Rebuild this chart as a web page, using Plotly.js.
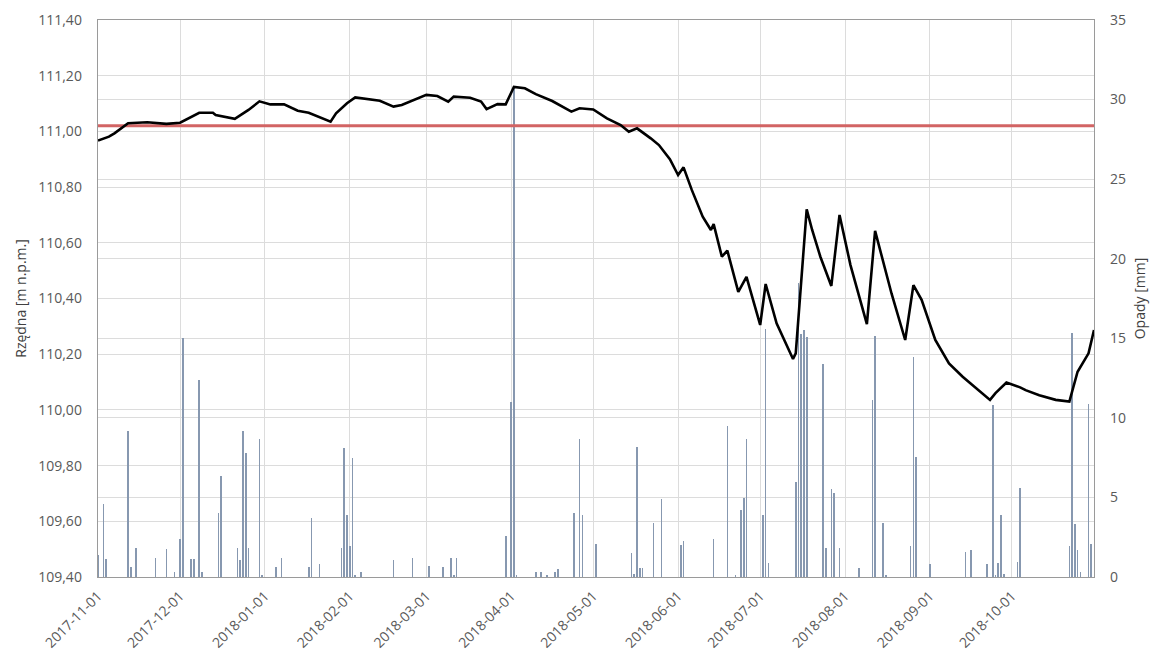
<!DOCTYPE html>
<html>
<head>
<meta charset="utf-8">
<script src="https://cdn.plot.ly/plotly-3.0.1.min.js"></script>
<style>
html,body{margin:0;padding:0;background:#fff;}
#chart{width:1163px;height:657px;}
</style>
</head>
<body>
<div id="chart"></div>
<script>
// Water level (Rzędna, m n.p.m.)
const levelDates = [
 '2017-11-01','2017-11-05','2017-11-07','2017-11-10','2017-11-12','2017-11-19','2017-11-26',
 '2017-12-01','2017-12-04','2017-12-08','2017-12-13','2017-12-14','2017-12-21','2017-12-26','2017-12-30',
 '2018-01-03','2018-01-08','2018-01-13','2018-01-17','2018-01-21','2018-01-25','2018-01-27','2018-01-31',
 '2018-02-03','2018-02-08','2018-02-12','2018-02-17','2018-02-20',
 '2018-03-01','2018-03-05','2018-03-09','2018-03-11','2018-03-17','2018-03-21','2018-03-23','2018-03-27','2018-03-30',
 '2018-04-02','2018-04-06','2018-04-10','2018-04-16','2018-04-23','2018-04-26',
 '2018-05-01','2018-05-06','2018-05-11','2018-05-14','2018-05-17','2018-05-22','2018-05-25','2018-05-29',
 '2018-06-01','2018-06-03','2018-06-06','2018-06-10','2018-06-13','2018-06-14','2018-06-17','2018-06-19','2018-06-23','2018-06-26',
 '2018-07-01','2018-07-03','2018-07-07','2018-07-13','2018-07-14','2018-07-18','2018-07-20','2018-07-23','2018-07-27','2018-07-30',
 '2018-08-03','2018-08-09','2018-08-12','2018-08-18','2018-08-23','2018-08-26','2018-08-29',
 '2018-09-03','2018-09-08','2018-09-13','2018-09-18','2018-09-23','2018-09-25','2018-09-29',
 '2018-10-04','2018-10-06','2018-10-11','2018-10-17','2018-10-22','2018-10-25','2018-10-29','2018-10-31'
];
const levelValues = [
 110.967,110.981,110.993,111.015,111.029,111.033,111.027,
 111.031,111.047,111.067,111.067,111.059,111.045,111.077,111.108,
 111.097,111.097,111.074,111.067,111.050,111.035,111.065,111.101,
 111.122,111.115,111.110,111.089,111.095,
 111.131,111.127,111.107,111.125,111.121,111.107,111.080,111.098,111.097,
 111.160,111.155,111.134,111.109,111.071,111.083,
 111.079,111.047,111.023,110.999,111.011,110.975,110.951,110.900,
 110.843,110.871,110.790,110.694,110.646,110.667,110.550,110.572,110.424,110.478,
 110.305,110.452,110.311,110.183,110.203,110.720,110.646,110.550,110.445,110.700,
 110.520,110.308,110.643,110.418,110.251,110.448,110.395,
 110.251,110.167,110.119,110.078,110.036,110.060,110.098,
 110.081,110.071,110.053,110.036,110.030,110.137,110.203,110.287
];

// Precipitation (Opady, mm)
const rainDates = [
 '2017-11-01','2017-11-03','2017-11-04','2017-11-12','2017-11-13','2017-11-15','2017-11-22','2017-11-26','2017-11-29',
 '2017-12-01','2017-12-02','2017-12-05','2017-12-06','2017-12-08','2017-12-09','2017-12-15','2017-12-16',
 '2017-12-22','2017-12-23','2017-12-24','2017-12-25','2017-12-26','2017-12-30','2017-12-31',
 '2018-01-05','2018-01-07','2018-01-17','2018-01-18','2018-01-21','2018-01-29','2018-01-30','2018-01-31',
 '2018-02-01','2018-02-02','2018-02-03','2018-02-05','2018-02-17','2018-02-24',
 '2018-03-02','2018-03-07','2018-03-10','2018-03-11','2018-03-12','2018-03-30',
 '2018-04-01','2018-04-02','2018-04-03','2018-04-10','2018-04-12','2018-04-14','2018-04-17','2018-04-18',
 '2018-04-24','2018-04-26','2018-04-27',
 '2018-05-02','2018-05-15','2018-05-16','2018-05-17','2018-05-18','2018-05-19','2018-05-23','2018-05-26',
 '2018-06-02','2018-06-03','2018-06-14','2018-06-19','2018-06-22','2018-06-24','2018-06-25','2018-06-26',
 '2018-07-02','2018-07-03','2018-07-04','2018-07-14','2018-07-15','2018-07-16','2018-07-17','2018-07-18',
 '2018-07-24','2018-07-25','2018-07-27','2018-07-28','2018-07-30',
 '2018-08-06','2018-08-11','2018-08-12','2018-08-15','2018-08-16','2018-08-25','2018-08-26','2018-08-27',
 '2018-09-01','2018-09-14','2018-09-16','2018-09-22','2018-09-24','2018-09-25','2018-09-26','2018-09-27','2018-09-28',
 '2018-10-03','2018-10-04','2018-10-22','2018-10-23','2018-10-24','2018-10-25','2018-10-26','2018-10-29','2018-10-30'
];
const rainValues = [
 1.4,4.6,1.1,9.2,0.6,1.85,1.2,1.75,0.3,
 2.4,15.0,1.15,1.15,12.4,0.3,4.0,6.35,
 1.85,1.07,9.2,7.8,1.85,8.65,0.1,
 0.6,1.2,0.6,3.7,0.8,1.85,8.1,3.9,
 1.95,7.45,0.1,0.3,1.07,1.17,
 0.7,0.6,1.2,0.1,1.17,2.6,
 11.0,30.8,0.1,0.3,0.3,0.1,0.33,0.5,
 4.0,8.65,3.9,
 2.1,1.5,0.2,8.2,0.55,0.55,3.4,4.9,
 2.0,2.25,2.4,9.5,0.1,4.2,4.95,8.7,
 3.9,15.6,0.85,6.0,18.5,15.3,15.5,15.1,
 13.4,1.85,5.5,5.3,1.85,
 0.55,11.1,15.15,3.4,0.1,1.95,13.85,7.55,
 0.8,1.6,1.7,0.8,10.8,0.1,0.85,3.9,0.2,
 0.95,5.6,1.95,15.35,3.3,1.7,0.3,10.9,2.1
];

// Reference level (red line)
const referenceLevel = [111.02];
const periodBounds = ['2017-11-01','2018-10-31'];
const monthTicks = ['2017-11-01','2017-12-01','2018-01-01','2018-02-01','2018-03-01','2018-04-01',
 '2018-05-01','2018-06-01','2018-07-01','2018-08-01','2018-09-01','2018-10-01'];

const fontFam = '"Open Sans", "DejaVu Sans", sans-serif';
const txtCol = '#595959';
const gridCol = '#dcdcdc';
const dayMs = 86400000;

const traces = [
  {
    type: 'bar', x: rainDates, y: rainValues, yaxis: 'y',
    width: 0.6 * dayMs,
    marker: {color: '#8798b0', line: {width: 0}},
    hoverinfo: 'skip', showlegend: false
  },
  {
    type: 'scatter', mode: 'lines', yaxis: 'y2',
    x: periodBounds, y: [referenceLevel[0], referenceLevel[0]],
    line: {color: '#d26464', width: 3},
    hoverinfo: 'skip', showlegend: false
  },
  {
    type: 'scatter', mode: 'lines', yaxis: 'y2',
    x: levelDates, y: levelValues,
    line: {color: '#000000', width: 2.6},
    hoverinfo: 'skip', showlegend: false
  }
];

const layout = {
  width: 1163, height: 657,
  margin: {l: 98, r: 69, t: 20, b: 80},
  paper_bgcolor: '#ffffff', plot_bgcolor: '#ffffff',
  separators: ', ',
  showlegend: false,
  font: {family: fontFam, size: 14, color: txtCol},
  xaxis: {
    type: 'date',
    range: periodBounds,
    tickvals: monthTicks,
    tickformat: '%Y-%m-%d',
    tickangle: -45,
    showgrid: true, gridcolor: gridCol, gridwidth: 1,
    showline: true, linecolor: '#9a9a9a', linewidth: 1.3, mirror: true,
    ticks: '', ticklabelstandoff: 4,
    tickfont: {family: fontFam, size: 14, color: txtCol},
    zeroline: false
  },
  yaxis: {
    side: 'right',
    range: [0, 35], dtick: 5, tick0: 0,
    showgrid: true, gridcolor: gridCol, gridwidth: 1,
    showline: true, linecolor: '#9a9a9a', linewidth: 1.3,
    ticks: '', ticklabelstandoff: 12,
    tickfont: {family: fontFam, size: 14, color: txtCol},
    zeroline: false,
    title: {text: 'Opady [mm]', font: {family: fontFam, size: 14, color: '#404040'}, standoff: 10}
  },
  yaxis2: {
    overlaying: 'y', side: 'left',
    range: [109.4, 111.4], dtick: 0.2, tick0: 109.4,
    tickformat: '.2f',
    showgrid: true, gridcolor: gridCol, gridwidth: 1,
    showline: true, linecolor: '#9a9a9a', linewidth: 1.3,
    ticks: '', ticklabelstandoff: 12,
    tickfont: {family: fontFam, size: 14, color: txtCol},
    zeroline: false,
    title: {text: 'Rzędna [m n.p.m.]', font: {family: fontFam, size: 14, color: '#404040'}, standoff: 8}
  },
  bargap: 0
};

Plotly.newPlot('chart', traces, layout, {displayModeBar: false, staticPlot: true});
</script>
</body>
</html>
